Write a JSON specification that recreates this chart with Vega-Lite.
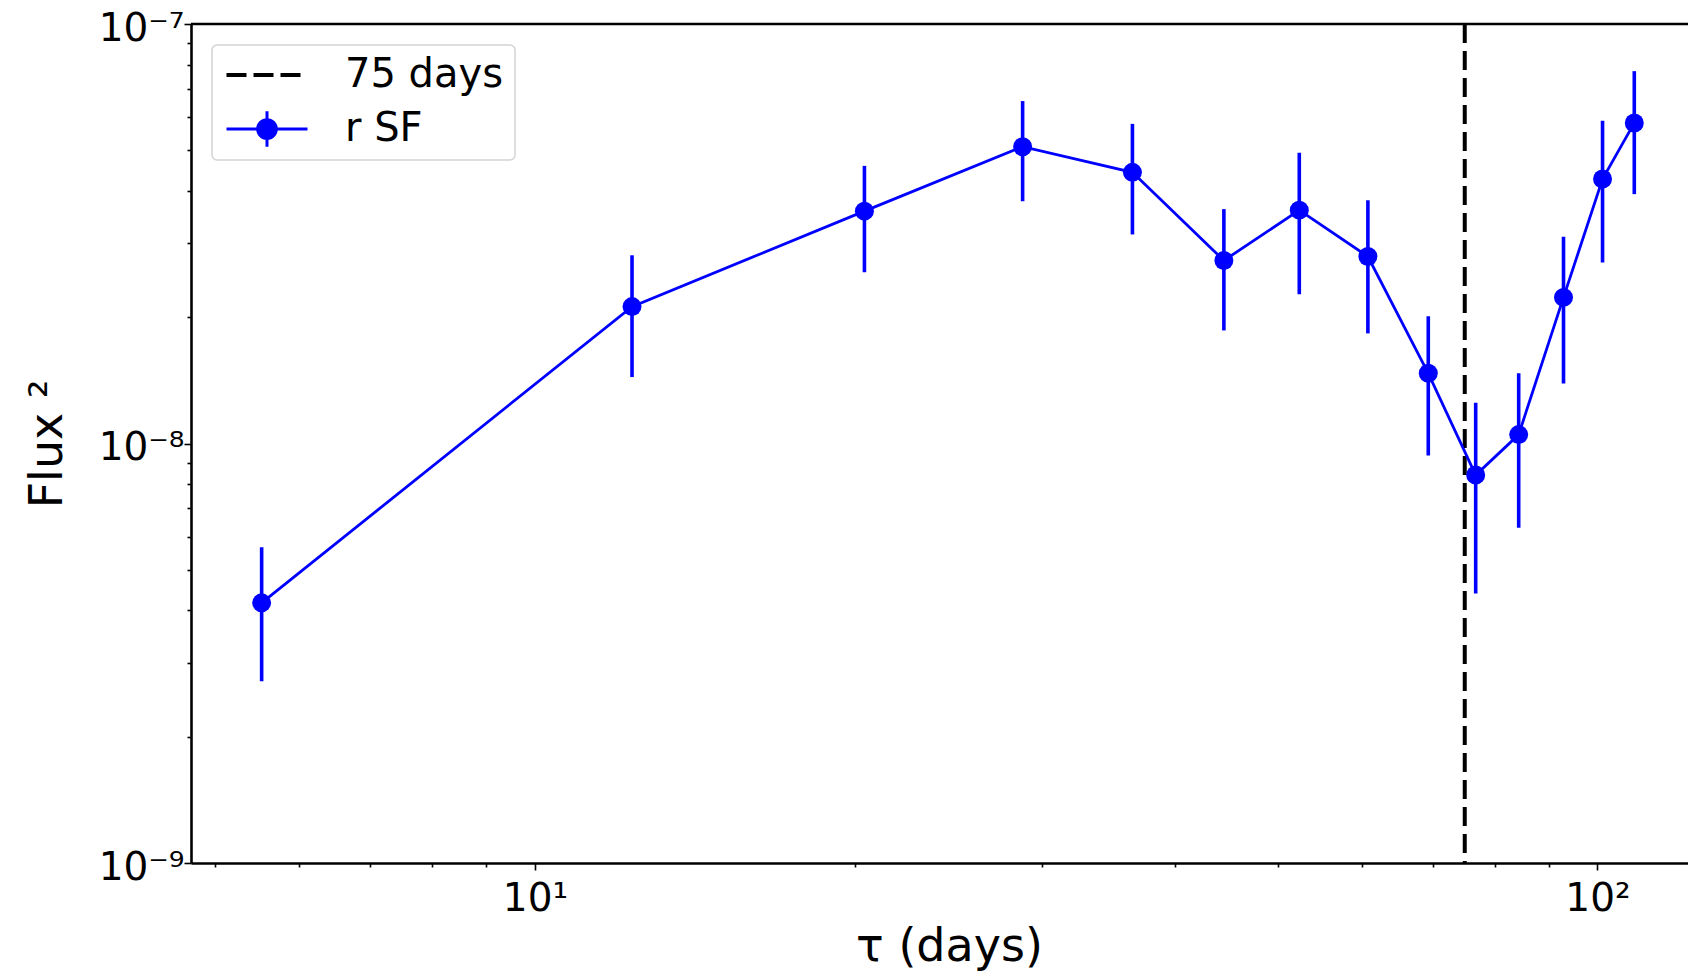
{
  "$schema": "https://vega.github.io/schema/vega-lite/v6.json",
  "autosize": {"type": "none"},
  "width": 1497,
  "height": 839,
  "padding": {"left": 191, "top": 24, "right": 0, "bottom": 110},
  "background": "white",
  "config": {
    "font": "DejaVu Sans",
    "view": {"stroke": null},
    "axis": {
      "grid": false,
      "domainColor": "black",
      "domainWidth": 2.6,
      "tickColor": "black",
      "tickWidth": 1.6,
      "labelFont": "DejaVu Sans",
      "labelFontSize": 39,
      "labelColor": "black",
      "labelOverlap": false,
      "labelFlush": false,
      "titleFont": "DejaVu Sans",
      "titleFontSize": 46,
      "titleFontWeight": "normal",
      "titleColor": "black"
    }
  },
  "datasets": {
    "sf": [
      {"tau": 5.53, "sf": 4.17e-9, "lo": 2.71e-9, "hi": 5.66e-9, "series": "r SF"},
      {"tau": 12.34, "sf": 2.12e-8, "lo": 1.44e-8, "hi": 2.81e-8, "series": "r SF"},
      {"tau": 20.42, "sf": 3.58e-8, "lo": 2.56e-8, "hi": 4.59e-8, "series": "r SF"},
      {"tau": 28.77, "sf": 5.10e-8, "lo": 3.78e-8, "hi": 6.55e-8, "series": "r SF"},
      {"tau": 36.5, "sf": 4.43e-8, "lo": 3.15e-8, "hi": 5.78e-8, "series": "r SF"},
      {"tau": 44.5, "sf": 2.73e-8, "lo": 1.86e-8, "hi": 3.62e-8, "series": "r SF"},
      {"tau": 52.4, "sf": 3.60e-8, "lo": 2.27e-8, "hi": 4.93e-8, "series": "r SF"},
      {"tau": 60.8, "sf": 2.79e-8, "lo": 1.83e-8, "hi": 3.80e-8, "series": "r SF"},
      {"tau": 69.3, "sf": 1.47e-8, "lo": 9.36e-9, "hi": 2.01e-8, "series": "r SF"},
      {"tau": 76.8, "sf": 8.41e-9, "lo": 4.39e-9, "hi": 1.25e-8, "series": "r SF"},
      {"tau": 84.3, "sf": 1.05e-8, "lo": 6.30e-9, "hi": 1.47e-8, "series": "r SF"},
      {"tau": 92.9, "sf": 2.23e-8, "lo": 1.39e-8, "hi": 3.11e-8, "series": "r SF"},
      {"tau": 101.1, "sf": 4.27e-8, "lo": 2.70e-8, "hi": 5.88e-8, "series": "r SF"},
      {"tau": 108.3, "sf": 5.81e-8, "lo": 3.93e-8, "hi": 7.72e-8, "series": "r SF"}
    ],
    "marker": [{"tau": 75, "series": "75 days"}],
    "frame": [{"flux": 1e-7}]
  },
  "layer": [
    {
      "data": {"name": "frame"},
      "mark": {"type": "rule", "color": "black", "strokeWidth": 2.6},
      "encoding": {
        "y": {"field": "flux", "type": "quantitative", "scale": {"type": "log", "domain": [1e-9, 1e-7], "nice": false}}
      }
    },
    {
      "data": {"name": "marker"},
      "mark": {"type": "rule", "strokeDash": [19, 8], "strokeWidth": 4},
      "encoding": {
        "x": {"field": "tau", "type": "quantitative"},
        "color": {"field": "series", "type": "nominal"}
      }
    },
    {
      "data": {"name": "sf"},
      "mark": {"type": "rule", "color": "#0000ff", "strokeWidth": 3.6},
      "encoding": {
        "x": {"field": "tau", "type": "quantitative"},
        "y": {"field": "lo", "type": "quantitative"},
        "y2": {"field": "hi"}
      }
    },
    {
      "data": {"name": "sf"},
      "mark": {"type": "line", "strokeWidth": 2.8},
      "encoding": {
        "x": {
          "field": "tau",
          "type": "quantitative",
          "title": "τ (days)",
          "scale": {"type": "log", "domain": [4.745, 121.67], "nice": false},
          "axis": {
            "values": [5, 6, 7, 8, 9, 10, 20, 30, 40, 50, 60, 70, 80, 90, 100],
            "labelExpr": "datum.value == 10 ? '10¹' : datum.value == 100 ? '10²' : ''",
            "tickSize": {"condition": {"test": "datum.value == 10 || datum.value == 100", "value": 7}, "value": 4},
            "labelPadding": 9,
            "titlePadding": 6,
            "titleX": 758
          }
        },
        "y": {
          "field": "sf",
          "type": "quantitative",
          "title": "Flux ²",
          "axis": {
            "values": [1e-9, 2e-9, 3e-9, 4e-9, 5e-9, 6e-9, 7e-9, 8e-9, 9e-9, 1e-8, 2e-8, 3e-8, 4e-8, 5e-8, 6e-8, 7e-8, 8e-8, 9e-8, 1e-7],
            "labelExpr": "abs(datum.value / 1e-9 - 1) < 1e-6 ? '10⁻⁹' : abs(datum.value / 1e-8 - 1) < 1e-6 ? '10⁻⁸' : abs(datum.value / 1e-7 - 1) < 1e-6 ? '10⁻⁷' : ''",
            "tickSize": {"condition": {"test": "abs(datum.value / 1e-9 - 1) < 1e-6 || abs(datum.value / 1e-8 - 1) < 1e-6 || abs(datum.value / 1e-7 - 1) < 1e-6", "value": 7}, "value": 4},
            "labelPadding": 0,
            "labelOffset": 4,
            "titlePadding": 27
          }
        },
        "color": {
          "field": "series",
          "type": "nominal",
          "scale": {"domain": ["75 days", "r SF"], "range": ["#000000", "#0000ff"]},
          "legend": {
            "title": null,
            "orient": "top-left",
            "offset": 21,
            "padding": 11,
            "fillColor": "rgba(255,255,255,0.8)",
            "strokeColor": "#d3d3d3",
            "cornerRadius": 5,
            "labelFont": "DejaVu Sans",
            "labelFontSize": 40,
            "labelColor": "black",
            "labelOffset": 82,
            "labelLimit": 0,
            "symbolSize": 6561,
            "clipHeight": 38,
            "rowPadding": 14,
            "encode": {
              "legend": {
                "update": {"strokeWidth": {"value": 1.5}}
              },
              "symbols": {
                "update": {
                  "x": {"value": 44},
                  "size": {"value": 6561},
                  "shape": {"signal": "datum.value === 'r SF' ? 'M-1,0H1M0,-0.44V0.44M0.23,0A0.23,0.23,0,1,1,-0.23,0A0.23,0.23,0,1,1,0.23,0Z' : 'M-1,0H1'"},
                  "fill": {"signal": "datum.value === 'r SF' ? '#0000ff' : 'transparent'"},
                  "stroke": {"signal": "datum.value === 'r SF' ? '#0000ff' : '#000000'"},
                  "strokeDash": {"signal": "datum.value === 'r SF' ? [] : [20, 7]"},
                  "strokeWidth": {"signal": "datum.value === 'r SF' ? 3 : 4"},
                  "opacity": {"value": 1}
                }
              }
            }
          }
        }
      }
    },
    {
      "data": {"name": "sf"},
      "mark": {"type": "point", "filled": true, "color": "#0000ff", "opacity": 1, "size": 360},
      "encoding": {
        "x": {"field": "tau", "type": "quantitative"},
        "y": {"field": "sf", "type": "quantitative"}
      }
    }
  ]
}
